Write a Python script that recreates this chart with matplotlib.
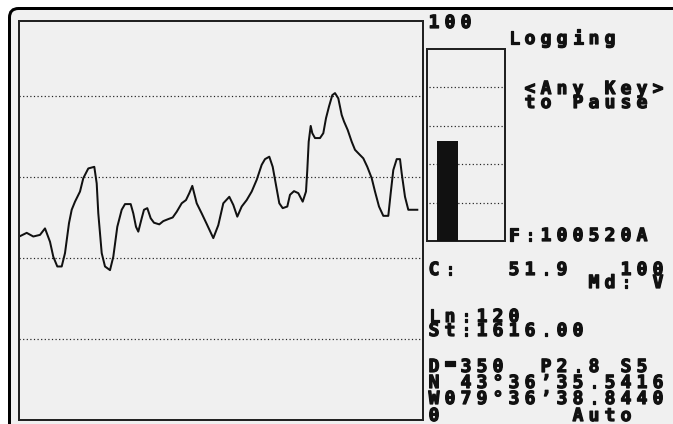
import matplotlib
matplotlib.use('Agg')
from matplotlib import pyplot as plt
from matplotlib.patches import FancyBboxPatch
import matplotlib.patheffects as pe
import numpy as np

W, H = 673, 424

# trace on the left screen (sample position, reading)
t = [0.3, 7.7, 14.3, 21, 26, 31, 34.3, 38.3, 42.7, 46, 50, 52.7, 56, 61, 64.3,
     69.3, 75.3, 77.7, 79.3, 82.7, 86, 91, 94.3, 98.3, 102.7, 106, 111.7, 114.3,
     117, 119.3, 122.7, 125, 128.3, 131.7, 135, 140.3, 144.3, 149.3, 153.7, 157.7,
     162.7, 167, 170.3, 173.3, 177.7, 182.7, 187.7, 194.3, 199.3, 204.3, 210.3,
     214.3, 218.3, 222.7, 227.7, 232.7, 237.7, 242.7, 246, 250.3, 253.7, 257,
     260.3, 263.7, 268.3, 271, 275, 279.3, 283.7, 287, 288.3, 289.7, 291.7, 293.3,
     296, 301, 304.3, 307, 310, 313.3, 316, 319.3, 322.7, 325, 328.7, 332.7, 336,
     340.3, 344.3, 348.3, 352.7, 356, 360, 364.3, 369.3, 371.7, 374.3, 377.7, 381,
     382.7, 386, 389.3, 398.3]
v = [45.3, 46.2, 45.3, 45.7, 47.3, 44.0, 40.3, 37.9, 37.9, 41.2, 48.6, 51.9, 53.9,
     56.4, 59.7, 62.1, 62.5, 58.4, 51.0, 41.2, 37.9, 37.0, 40.3, 47.7, 51.9, 53.3,
     53.3, 51.0, 47.7, 46.5, 49.8, 51.9, 52.3, 49.8, 48.7, 48.3, 49.1, 49.6, 50.0,
     51.4, 53.5, 54.3, 56.0, 57.8, 53.5, 51.0, 48.4, 44.9, 48.1, 53.5, 55.1, 53.1,
     50.2, 52.7, 54.3, 56.4, 59.3, 63.0, 64.4, 65.0, 62.5, 58.0, 53.5, 52.3, 52.7,
     55.6, 56.5, 56.0, 53.9, 56.4, 61.7, 68.7, 72.6, 70.8, 69.6, 69.6, 70.8, 74.5,
     77.4, 80.2, 80.7, 79.4, 75.3, 73.7, 71.6, 68.7, 66.7, 65.6, 64.6, 62.5, 59.7,
     56.4, 52.7, 50.4, 50.4, 56.0, 61.7, 64.4, 64.4, 60.9, 55.1, 51.9, 51.9]
grid_levels = [20, 40, 60, 80]
gauge_levels = [20, 40, 60, 80]
gauge_value = 51.9

# text on the right panel: (column, baseline px, text)
panel_text = [
    (0, 28, "100"),
    (5, 44, "Logging"),
    (6, 94, "<Any Key>"),
    (6, 108, "to Pause"),
    (5, 241, "F:100520A"),
    (0, 275, "C:   51.9   100"),
    (10, 288, "Md: V"),
    (0, 322, "Ln:120"),
    (0, 336, "St:1616.00"),
    (0, 372, "D\u25ac350  P2.8 S5"),
    (0, 388, "N 43°36\u201935.5416"),
    (0, 404, "W079°36\u201938.8440"),
    (0, 421, "0        Auto"),
]

INK = '#111111'
EDGE = '#222222'
BG = '#f0f0f0'
px = 72 / 100.0  # points per pixel


def px_axes(fig, l, t, r, b):
    return fig.add_axes([l / W, 1 - b / H, (r - l) / W, (b - t) / H])


fig = plt.figure(figsize=(W / 100, H / 100), dpi=100)
fig.patch.set_facecolor('white')

# background / frame / text layer
bg = fig.add_axes([0, 0, 1, 1])
bg.set_xlim(0, W)
bg.set_ylim(H, 0)
bg.axis('off')
frame = FancyBboxPatch((9.5, 8.5), 700, 440, boxstyle='round,pad=0,rounding_size=9',
                       facecolor=BG, edgecolor='black', linewidth=3 * px)
bg.add_patch(frame)

bold = [pe.withStroke(linewidth=0.9, foreground=INK)]


def lcd_text(col, y, s):
    # fixed 16 px character cells, like the LCD font
    for i, ch in enumerate(s):
        if ch == ' ':
            continue
        yy = y - 4 if ch == '\u25ac' else y
        bg.text(426 + 16 * (col + i) + 8, yy, ch, ha='center', va='baseline',
                fontsize=13, fontweight='bold', color=INK,
                family=['DejaVu Sans Mono', 'DejaVu Sans'], path_effects=bold)


for col, y, s in panel_text:
    lcd_text(col, y, s)

# trend plot
ax = px_axes(fig, 19, 21, 423, 420)
ax.set_facecolor('none')
ax.set_xlim(0, 404)
ax.set_ylim(0, 98.5)
for lvl in grid_levels:
    ax.axhline(lvl, color=EDGE, lw=1.2 * px, ls=(0, (1, 2)))
ax.plot(t, v, color=INK, lw=2 * px)
ax.set_xticks([])
ax.set_yticks([])
for s in ax.spines.values():
    s.set_linewidth(2 * px)
    s.set_color(EDGE)

# bar gauge
g = px_axes(fig, 427, 48.5, 505, 241)
g.set_facecolor('none')
g.set_xlim(0, 1)
g.set_ylim(0, 100)
for lvl in gauge_levels:
    g.axhline(lvl, xmin=0.03, xmax=0.97, color=EDGE, lw=1.2 * px, ls=(0, (1, 2)))
g.bar([0.2625], [gauge_value], width=0.277, color=INK, zorder=3)
g.set_xticks([])
g.set_yticks([])
for s in g.spines.values():
    s.set_linewidth(2 * px)
    s.set_color(EDGE)

fig.savefig('out.png', dpi=100, facecolor='white')
